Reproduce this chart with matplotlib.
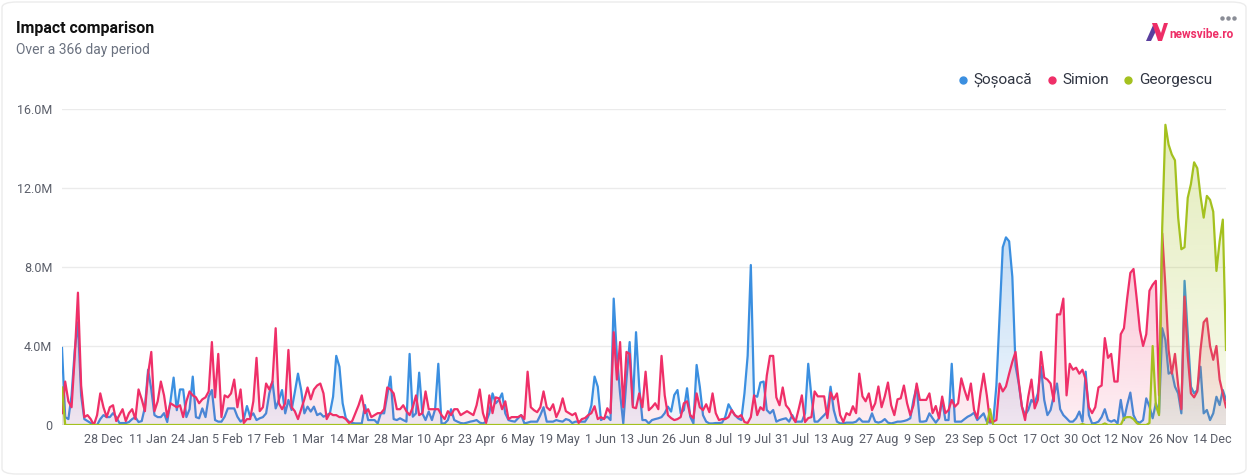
import matplotlib
matplotlib.use("Agg")
import matplotlib.pyplot as plt
import matplotlib.dates as mdates
import matplotlib.colors as mcolors
from matplotlib.patches import Polygon, FancyBboxPatch
from matplotlib.lines import Line2D
from matplotlib.transforms import ScaledTranslation
import numpy as np
import pandas as pd

plt.rcParams['font.family'] = ['Roboto', 'DejaVu Sans']

# one value per day, in millions, starting 15 Dec 2023
start_date = "2023-12-15"

sosoaca = [
    3.9, 0.4, 0.3, 1.5, 3.8, 5.2, 1.5, 0.3, 0.2, 0.1,      # 0
    0.0, 0.0, 0.3, 0.5, 0.4, 0.4, 0.6, 0.4, 0.1, 0.1,
    0.1, 0.15, 0.3, 0.4, 0.15, 0.2, 0.9, 2.8, 1.8, 0.5,
    0.4, 0.4, 0.6, 0.15, 1.2, 2.4, 0.75, 1.8, 1.8, 0.4,
    0.8, 2.45, 0.4, 0.34, 0.84, 0.4, 1.43, 1.77, 0.25, 0.17,  # 40
    0.17, 0.42, 0.84, 0.84, 0.84, 0.42, 0.17, 0.3, 0.96, 0.42,
    0.59, 0.25, 0.34, 0.4, 0.59, 1.6, 2.2, 0.84, 1.27, 1.77,
    0.59, 1.27, 0.76, 1.66, 2.6, 1.77, 0.59, 0.93, 0.68, 0.93,
    0.5, 0.59, 0.42, 0.5, 0.59, 1.43, 3.5, 2.95, 1.1, 0.34,   # 80
    0.17, 0.1, 0.08, 0.08, 0.08, 1.01, 0.25, 0.25, 0.25, 0.08,
    0.6, 0.59, 1.52, 2.45, 0.3, 0.25, 0.34, 0.25, 0.17, 3.6,
    0.42, 0.59, 2.65, 0.59, 0.25, 0.68, 0.25, 0.8, 3.1, 0.08,
    0.08, 0.25, 0.8, 0.25, 0.17, 0.1, 0.08, 0.12, 0.17, 0.2,  # 120
    0.25, 0.12, 0.08, 0.17, 0.6, 1.6, 1.1, 1.27, 1.6, 0.59,
    0.25, 0.2, 0.17, 0.34, 0.5, 0.08, 0.12, 0.17, 0.17, 0.17,
    0.5, 0.9, 0.17, 0.17, 0.17, 0.25, 0.2, 0.17, 0.3, 0.25,
    0.1, 0.17, 0.17, 0.17, 0.17, 0.42, 1.0, 2.45, 1.94, 0.25,  # 160
    0.35, 0.42, 0.25, 6.4, 3.5, 1.6, 0.08, 2.3, 4.2, 1.0,
    4.7, 1.94, 0.25, 0.25, 0.08, 0.25, 0.3, 0.34, 0.4, 0.6,
    0.93, 0.68, 1.52, 1.77, 0.59, 0.76, 1.86, 0.42, 0.08, 3.04,
    1.94, 0.5, 0.17, 0.08, 0.08, 0.1, 0.1, 0.12, 0.42, 1.05,  # 200
    0.76, 0.5, 0.34, 0.25, 1.6, 3.5, 8.1, 1.5, 1.43, 2.15,
    2.2, 0.76, 0.59, 0.76, 0.17, 0.25, 0.3, 0.34, 0.17, 0.5,
    0.17, 0.17, 0.17, 0.59, 3.1, 1.43, 0.17, 0.17, 0.34, 0.5,
    0.68, 1.94, 0.76, 0.17, 0.08, 0.08, 0.12, 0.12, 0.12, 0.17,  # 240
    0.34, 0.17, 0.17, 0.17, 0.59, 0.17, 0.12, 0.17, 0.3, 0.12,
    0.08, 0.12, 0.17, 0.17, 0.2, 0.25, 0.34, 1.27, 1.94, 0.17,
    0.17, 0.2, 0.59, 0.34, 0.12, 0.34, 1.27, 0.25, 0.25, 3.1,
    0.17, 0.17, 0.17, 0.3, 0.42, 0.5, 0.62, 0.25, 0.42, 0.59,  # 280
    0.17, 0.12, 0.12, 2.0, 5.5, 9.0, 9.5, 9.3, 7.5, 3.0,
    2.1, 0.93, 0.5, 0.76, 1.27, 1.1, 1.6, 2.95, 1.27, 0.5,
    0.76, 1.5, 2.1, 0.8, 0.5, 0.34, 0.17, 0.17, 0.34, 0.68,
    0.17, 2.7, 0.5, 0.08, 0.1, 0.17, 0.4, 0.8, 0.25, 0.17,   # 320
    0.25, 0.08, 1.27, 0.25, 1.01, 1.64, 0.5, 0.17, 0.12, 0.25,
    1.35, 0.93, 0.34, 1.1, 0.59, 4.9, 4.3, 2.6, 2.7, 1.94,
    1.6, 0.59, 7.3, 4.6, 1.94, 1.6, 1.77, 2.95, 0.59, 0.76,
    0.25, 0.59, 1.43, 1.01, 1.77, 1.27,                     # 360
]

simion = [
    0.6, 2.2, 1.2, 0.9, 3.5, 6.7, 2.0, 0.4, 0.5, 0.3,       # 0
    0.0, 0.5, 1.6, 0.9, 0.4, 0.9, 1.0, 0.2, 0.5, 0.8,
    0.2, 0.6, 0.8, 0.3, 1.8, 1.3, 0.7, 2.6, 3.7, 0.7,
    1.2, 2.2, 1.5, 0.4, 1.1, 1.0, 0.9, 1.0, 0.4, 1.2,
    1.7, 1.5, 1.4, 1.1, 1.3, 1.4, 1.7, 4.2, 1.4, 3.6,       # 40
    0.4, 1.5, 1.4, 1.6, 2.3, 0.9, 1.8, 0.1, 0.3, 0.3,
    1.2, 3.4, 0.7, 0.9, 2.1, 1.8, 2.2, 4.9, 1.1, 0.8,
    1.1, 3.8, 0.9, 0.7, 0.3, 0.8, 1.3, 1.9, 1.3, 1.8,
    2.0, 2.1, 1.6, 0.3, 0.6, 0.5, 0.5, 0.4, 0.4, 0.3,       # 80
    0.1, 0.2, 0.6, 1.0, 1.5, 0.6, 0.8, 0.4, 0.5, 0.6,
    0.6, 0.8, 1.9, 1.8, 1.6, 0.8, 0.8, 1.0, 0.7, 0.5,
    0.9, 1.5, 0.5, 0.6, 1.7, 0.8, 0.8, 0.8, 0.8, 0.5,
    0.3, 0.7, 0.5, 0.8, 0.8, 0.5, 0.6, 0.7, 0.6, 0.5,       # 120
    1.0, 1.8, 0.6, 0.1, 1.5, 0.6, 1.4, 1.35, 0.8, 1.2,
    0.3, 0.4, 0.4, 0.4, 0.5, 0.3, 2.7, 0.9, 0.75, 0.65,
    0.9, 1.7, 0.9, 0.75, 1.05, 0.4, 0.75, 1.35, 0.7, 0.6,
    0.5, 0.6, 0.1, 0.3, 0.35, 0.5, 0.6, 0.95, 0.3, 0.4,     # 160
    0.3, 0.85, 0.6, 4.7, 2.3, 4.2, 0.9, 3.7, 3.6, 0.9,
    0.85, 1.6, 0.9, 2.7, 0.75, 0.9, 1.1, 0.8, 3.5, 1.5,
    0.5, 0.35, 0.25, 0.3, 0.4, 1.1, 1.2, 0.5, 0.35, 1.6,
    0.9, 0.75, 1.05, 0.65, 1.6, 0.6, 0.25, 0.3, 0.3, 0.4,   # 200
    0.75, 0.5, 0.4, 0.5, 0.15, 0.1, 0.4, 1.5, 0.5, 0.9,
    0.75, 2.5, 3.5, 3.5, 1.4, 1.0, 1.9, 1.0, 0.8, 0.4,
    0.15, 0.8, 1.5, 0.15, 0.35, 0.4, 1.7, 1.45, 1.45, 1.45,
    0.35, 1.65, 1.3, 1.6, 0.5, 0.15, 0.6, 0.5, 0.95, 0.6,   # 240
    2.6, 1.45, 1.2, 1.6, 0.75, 1.1, 1.95, 0.9, 1.45, 2.15,
    1.0, 0.5, 1.3, 1.35, 2.0, 1.1, 0.5, 1.0, 2.1, 1.27,
    1.27, 1.27, 1.6, 0.6, 0.96, 0.34, 1.44, 0.6, 0.76, 1.27,
    0.93, 1.1, 2.36, 1.77, 1.27, 2.1, 0.76, 0.34, 1.6, 2.6,  # 280
    1.5, 0.17, 0.17, 0.25, 2.1, 1.7, 1.95, 2.6, 3.2, 3.7,
    2.2, 0.93, 0.25, 1.44, 2.3, 0.84, 1.27, 3.7, 2.4, 2.3,
    2.1, 1.2, 5.6, 5.6, 6.4, 1.5, 3.1, 2.8, 2.9, 2.6,
    2.8, 2.3, 0.9, 0.6, 0.9, 1.9, 2.0, 4.4, 3.4, 3.6,       # 320
    2.2, 2.2, 4.6, 4.9, 6.4, 7.7, 7.9, 6.4, 4.8, 4.0,
    4.6, 6.8, 7.1, 7.3, 1.5, 9.7, 7.0, 3.8, 2.6, 3.6,
    2.0, 0.8, 6.5, 3.5, 1.6, 1.4, 1.7, 3.8, 5.2, 5.4,
    4.0, 3.3, 4.0, 2.3, 1.6, 0.9,                           # 360
]

georgescu = (
    [1.9] + [0.0] * 290 + [0.8] + [0.0] * 28 + [0.05] + [0.0] * 6 + [0.08]
    + [0.0] * 5 + [0.35, 0.4, 0.4, 0.3, 0.1] + [0.0] * 3
    + [0.1, 4.0, 1.0, 0.5, 10.0, 15.2, 14.2, 13.7, 13.4, 10.5, 8.9, 9.0,
       11.5, 12.2, 13.3, 13.0, 11.6, 10.5, 11.6, 11.4, 10.8, 7.8, 9.3, 10.4, 3.8]
)

series_names = ["Șoșoacă", "Simion", "Georgescu"]
series_colors = ["#3b8fe0", "#ef2f68", "#a4c11f"]

tick_dates = ["2023-12-28", "2024-01-11", "2024-01-24", "2024-02-05", "2024-02-17",
              "2024-03-01", "2024-03-14", "2024-03-28", "2024-04-10", "2024-04-23",
              "2024-05-06", "2024-05-19", "2024-06-01", "2024-06-13", "2024-06-26",
              "2024-07-08", "2024-07-19", "2024-07-31", "2024-08-13", "2024-08-27",
              "2024-09-09", "2024-09-23", "2024-10-05", "2024-10-17", "2024-10-30",
              "2024-11-12", "2024-11-26", "2024-12-14"]
y_ticks = [0, 4, 8, 12, 16]

W, H = 1248, 476
days = pd.date_range(start_date, periods=len(simion))
x = mdates.date2num(days)

fig = plt.figure(figsize=(W / 100, H / 100), dpi=100)
fig.patch.set_facecolor("white")

# card outline, kept behind the axes
card = FancyBboxPatch((2 / W, 2 / H), 1 - 4 / W, 1 - 4 / H,
                      boxstyle="round,pad=0,rounding_size=0.012",
                      transform=fig.transFigure, facecolor="white",
                      edgecolor="#ececec", lw=1, zorder=-5)
fig.add_artist(card)

ax = fig.add_axes([62 / W, 1 - 425 / H, (1226 - 62) / W, (425 - 109) / H])
ax.set_facecolor("none")
ax.set_zorder(2)


def gradient_area(ax, x, y, color, z):
    fill = ax.fill_between(x, y, 0, facecolor="none", edgecolor="none")
    grad = np.zeros((256, 1, 4))
    grad[..., :3] = mcolors.to_rgb(color)
    grad[:, 0, 3] = np.linspace(0.3, 0.08, 256)
    im = ax.imshow(grad, aspect="auto", origin="upper",
                   extent=[x[0], x[-1], 0, max(y)], zorder=z,
                   interpolation="bilinear")
    im.set_clip_path(fill.get_paths()[0], transform=ax.transData)


for i, (vals, col) in enumerate(zip([sosoaca, simion, georgescu], series_colors)):
    gradient_area(ax, x, vals, col, 2 + 2 * i)
    ax.plot(x, vals, color=col, lw=1.6, zorder=3 + 2 * i, solid_joinstyle="round")

ax.set_xlim(x[0], x[-1])
ax.set_ylim(0, 16)

for s in ax.spines.values():
    s.set_visible(False)
ax.axhline(0, color="#c9cbd3", lw=1, zorder=1)

ax.set_yticks(y_ticks)
ax.set_yticklabels(["0" if v == 0 else f"{v:.1f}M" for v in y_ticks])
ax.yaxis.grid(True, color="#ebebeb", lw=1)
ax.set_axisbelow(True)

tick_days = pd.to_datetime(tick_dates)
ax.set_xticks(mdates.date2num(tick_days))
ax.set_xticklabels([f"{d.day} {d:%b}" for d in tick_days])
ax.tick_params(axis="both", length=0, labelsize=9, labelcolor="#5b5f6a")
ax.tick_params(axis="x", pad=6)
ax.tick_params(axis="y", pad=7)
last = ax.get_xticklabels()[-1]
last.set_ha("right")
last.set_transform(last.get_transform() + ScaledTranslation(6 / 100, 0, fig.dpi_scale_trans))

# title block
fig.text(16 / W, 1 - 28 / H, "Impact comparison", fontsize=11.5, fontweight="bold",
         color="#111111", va="center")
fig.text(16 / W, 1 - 50 / H, "Over a 366 day period", fontsize=10,
         color="#6b7280", va="center")

# legend
leg_pos = [(963, 973), (1052, 1062), (1128, 1139)]
for (dx, tx), name, col in zip(leg_pos, series_names, series_colors):
    fig.add_artist(Line2D([dx / W], [1 - 80 / H], marker="o", ms=5, color=col,
                          transform=fig.transFigure))
    fig.text(tx / W, 1 - 80 / H, name, fontsize=11, color="#2f3441", va="center")


# logo
def px(pts):
    return [(a / W, 1 - b / H) for a, b in pts]


fig.add_artist(Polygon(px([(1146, 41), (1151, 41), (1157, 29), (1154, 23)]),
                       closed=True, transform=fig.transFigure, color="#5a3f9e", lw=0))
fig.add_artist(Polygon(px([(1152, 23), (1157, 23), (1161, 33), (1164, 23), (1168, 23),
                           (1162, 41), (1158, 41)]),
                       closed=True, transform=fig.transFigure, color="#ee2d66", lw=0))
fig.text(1169 / W, 1 - 34 / H, "newsvibe.ro", fontsize=8.5, fontweight="bold",
         color="#ee2d66", va="center")
fig.add_artist(Line2D([1222 / W, 1228 / W, 1234 / W], [1 - 18 / H] * 3, ls="none",
                      marker="o", ms=2.2, color="#8a8d96", transform=fig.transFigure))

fig.savefig("out.png", dpi=100)
